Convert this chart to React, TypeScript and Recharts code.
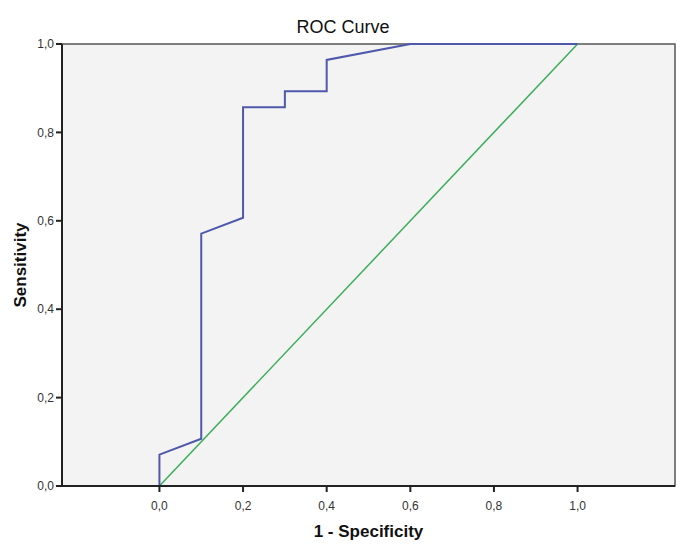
import React from "react";
import {
  LineChart,
  Line,
  XAxis,
  YAxis,
  ReferenceArea,
  Label,
} from "recharts";

// ROC points (1 - specificity, sensitivity)
const fpr = [0, 0, 0.1, 0.1, 0.2, 0.2, 0.3, 0.3, 0.4, 0.4, 0.6, 1.0];
const tpr = [0, 0.071, 0.107, 0.571, 0.607, 0.857, 0.857, 0.893, 0.893, 0.964, 1.0, 1.0];
const refX = [0, 1];
const refY = [0, 1];
const ticks = [0, 0.2, 0.4, 0.6, 0.8, 1.0];

const rocData = fpr.map((x, i) => ({ x, y: tpr[i] }));
const refData = refX.map((x, i) => ({ x, y: refY[i] }));

const font = "'Liberation Sans', Arial, sans-serif";
const fmt = (v: number) => v.toFixed(1).replace(".", ",");
const X_MIN = -0.233;
const X_MAX = 1.233;

export default function App() {
  return (
    <div style={{ position: "absolute", left: 0, top: 0, background: "#fff" }}>
      <div
        style={{
          position: "absolute",
          left: 0,
          width: 686,
          top: 17,
          textAlign: "center",
          fontFamily: font,
          fontSize: 18,
          color: "#111",
        }}
      >
        ROC Curve
      </div>
      <LineChart
        width={686}
        height={549}
        margin={{ top: 44, right: 11, bottom: 0, left: 0 }}
      >
        <ReferenceArea
          x1={X_MIN}
          x2={X_MAX}
          y1={0}
          y2={1}
          fill="#f3f3f3"
          fillOpacity={1}
          stroke="#555"
          strokeWidth={1.5}
        />
        <XAxis
          type="number"
          dataKey="x"
          domain={[X_MIN, X_MAX]}
          ticks={ticks}
          tickFormatter={fmt}
          height={63}
          allowDataOverflow
          stroke="#222"
          strokeWidth={2}
          tickSize={6}
          tick={{ fontFamily: font, fontSize: 12, fill: "#333", dy: 7 }}
        >
          <Label
            value="1 - Specificity"
            position="insideBottom"
            offset={12}
            style={{ fontFamily: font, fontSize: 17, fontWeight: "bold", fill: "#111" }}
          />
        </XAxis>
        <YAxis
          type="number"
          domain={[0, 1]}
          ticks={ticks}
          tickFormatter={fmt}
          width={62}
          stroke="#222"
          strokeWidth={2}
          tickSize={6}
          tick={{ fontFamily: font, fontSize: 12, fill: "#333" }}
        >
          <Label
            value="Sensitivity"
            angle={-90}
            position="insideLeft"
            offset={20}
            style={{ fontFamily: font, fontSize: 17, fontWeight: "bold", fill: "#111", textAnchor: "middle" }}
          />
        </YAxis>
        <Line
          data={refData}
          dataKey="y"
          type="linear"
          stroke="#3cae5a"
          strokeWidth={1.5}
          dot={false}
          isAnimationActive={false}
        />
        <Line
          data={rocData}
          dataKey="y"
          type="linear"
          stroke="#5058ac"
          strokeWidth={2}
          dot={false}
          isAnimationActive={false}
        />
      </LineChart>
    </div>
  );
}
